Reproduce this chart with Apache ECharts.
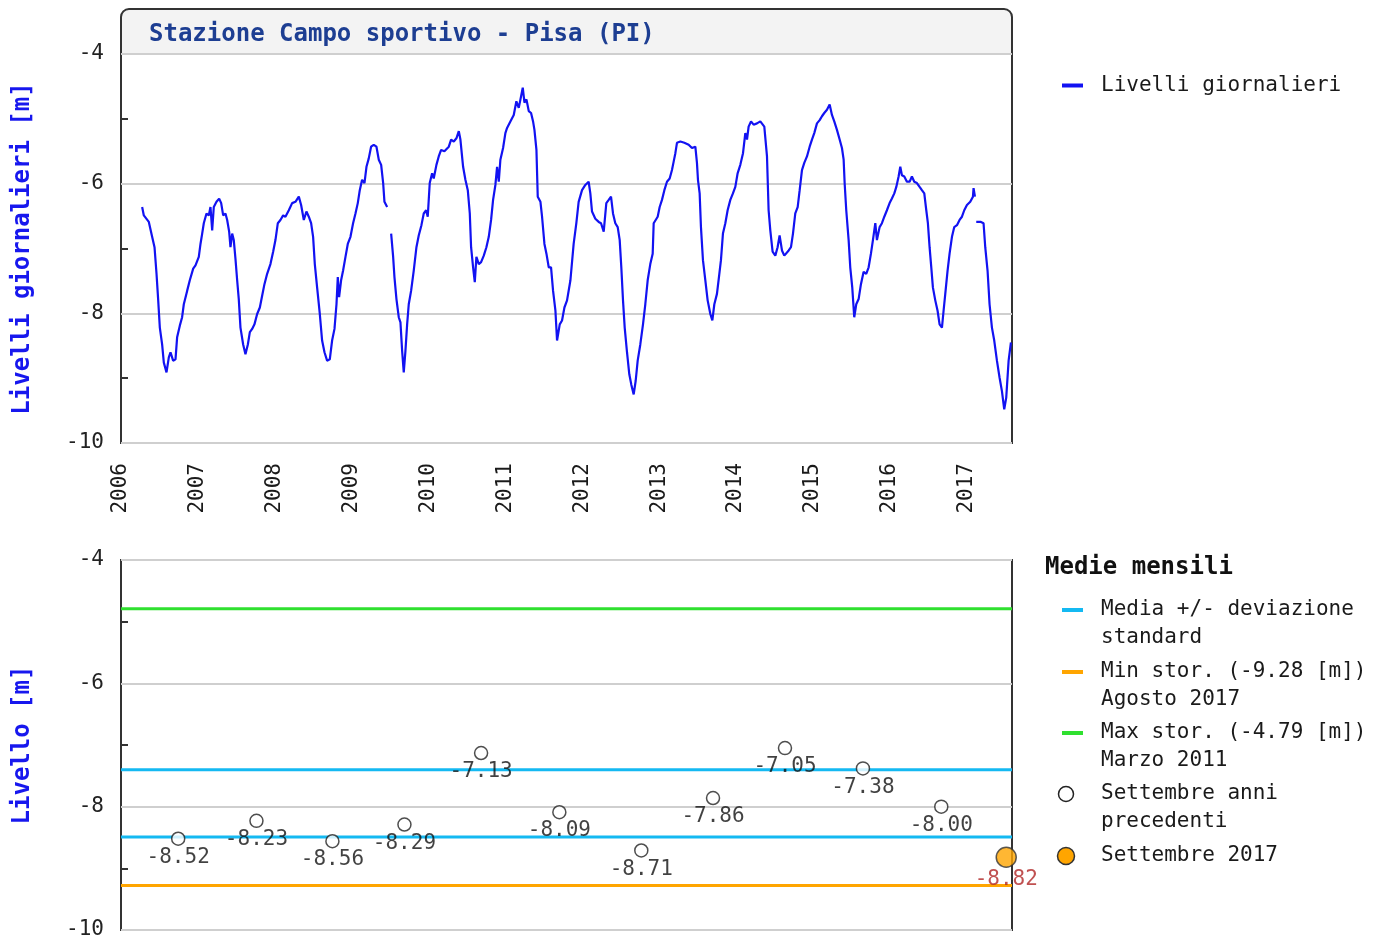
<!DOCTYPE html>
<html>
<head>
<meta charset="utf-8">
<title>Stazione Campo sportivo - Pisa (PI)</title>
<script src="https://cdn.jsdelivr.net/npm/echarts@6/dist/echarts.min.js"></script>
<style>
  html, body { margin: 0; padding: 0; background: #fff; }
  #chart { width: 1382px; height: 943px; }
</style>
</head>
<body>
<div id="chart"></div>
<script>
// ---- Daily groundwater level [m], time as decimal year (null = missing data) ----
const dailyLevels = [
  [2006.275,-6.36],[2006.297,-6.49],[2006.362,-6.59],[2006.405,-6.82],[2006.436,-6.98],[2006.462,-7.39],[2006.483,-7.78],[2006.505,-8.22],[2006.535,-8.48],[2006.557,-8.76],[2006.592,-8.91],[2006.622,-8.68],[2006.644,-8.60],[2006.678,-8.73],[2006.709,-8.71],[2006.730,-8.37],[2006.765,-8.19],[2006.795,-8.06],[2006.817,-7.86],[2006.861,-7.65],[2006.895,-7.49],[2006.939,-7.31],[2006.969,-7.26],
  [2007.012,-7.13],[2007.034,-6.93],[2007.056,-6.77],[2007.077,-6.61],[2007.112,-6.46],[2007.142,-6.49],[2007.164,-6.36],[2007.186,-6.72],[2007.207,-6.36],[2007.242,-6.28],[2007.277,-6.23],[2007.303,-6.30],[2007.329,-6.49],[2007.359,-6.46],[2007.381,-6.56],[2007.407,-6.74],[2007.424,-6.98],[2007.446,-6.77],[2007.467,-6.87],[2007.489,-7.16],[2007.511,-7.49],[2007.532,-7.78],[2007.554,-8.22],[2007.589,-8.48],[2007.619,-8.63],[2007.650,-8.48],[2007.676,-8.29],[2007.706,-8.24],[2007.736,-8.17],[2007.771,-8.01],[2007.806,-7.91],[2007.836,-7.73],[2007.866,-7.55],[2007.901,-7.39],[2007.944,-7.24],[2007.979,-7.05],
  [2008.009,-6.87],[2008.040,-6.61],[2008.074,-6.56],[2008.109,-6.49],[2008.139,-6.51],[2008.183,-6.41],[2008.226,-6.30],[2008.269,-6.28],[2008.313,-6.20],[2008.343,-6.33],[2008.378,-6.56],[2008.412,-6.43],[2008.443,-6.51],[2008.473,-6.61],[2008.499,-6.82],[2008.521,-7.24],[2008.551,-7.60],[2008.586,-8.01],[2008.616,-8.42],[2008.647,-8.60],[2008.681,-8.73],[2008.716,-8.71],[2008.746,-8.42],[2008.777,-8.24],[2008.803,-7.86],[2008.820,-7.44],[2008.837,-7.75],[2008.863,-7.49],[2008.889,-7.34],[2008.920,-7.13],[2008.950,-6.93],[2008.985,-6.82],
  [2009.019,-6.61],[2009.050,-6.46],[2009.080,-6.30],[2009.106,-6.10],[2009.136,-5.94],[2009.167,-5.99],[2009.193,-5.74],[2009.223,-5.61],[2009.253,-5.43],[2009.288,-5.40],[2009.323,-5.43],[2009.353,-5.63],[2009.384,-5.71],[2009.410,-5.99],[2009.427,-6.28],[2009.462,-6.36],[2009.490,null],
  [2009.514,-6.77],[2009.540,-7.13],[2009.557,-7.44],[2009.583,-7.78],[2009.613,-8.06],[2009.635,-8.14],[2009.657,-8.58],[2009.678,-8.91],[2009.700,-8.58],[2009.722,-8.17],[2009.743,-7.86],[2009.774,-7.65],[2009.808,-7.34],[2009.843,-6.98],[2009.873,-6.80],[2009.908,-6.64],[2009.938,-6.46],[2009.969,-6.41],[2009.990,-6.51],
  [2010.016,-5.99],[2010.047,-5.84],[2010.068,-5.92],[2010.103,-5.71],[2010.133,-5.58],[2010.164,-5.48],[2010.207,-5.50],[2010.264,-5.43],[2010.294,-5.32],[2010.329,-5.35],[2010.363,-5.30],[2010.394,-5.19],[2010.415,-5.32],[2010.450,-5.74],[2010.480,-5.94],[2010.511,-6.10],[2010.537,-6.46],[2010.554,-6.98],[2010.580,-7.29],[2010.602,-7.52],[2010.623,-7.13],[2010.654,-7.24],[2010.684,-7.21],[2010.719,-7.11],[2010.753,-6.98],[2010.784,-6.82],[2010.814,-6.56],[2010.840,-6.25],[2010.870,-6.02],[2010.892,-5.74],[2010.914,-5.97],[2010.935,-5.63],[2010.970,-5.45],
  [2011.000,-5.22],[2011.022,-5.14],[2011.065,-5.04],[2011.109,-4.94],[2011.143,-4.73],[2011.174,-4.83],[2011.196,-4.70],[2011.226,-4.52],[2011.248,-4.75],[2011.274,-4.70],[2011.304,-4.88],[2011.334,-4.91],[2011.360,-5.04],[2011.378,-5.17],[2011.404,-5.48],[2011.421,-6.20],[2011.456,-6.28],[2011.477,-6.51],[2011.508,-6.93],[2011.534,-7.08],[2011.564,-7.29],[2011.594,-7.29],[2011.620,-7.65],[2011.651,-7.96],[2011.672,-8.42],[2011.707,-8.17],[2011.737,-8.11],[2011.768,-7.91],[2011.802,-7.80],[2011.846,-7.49],[2011.888,-6.93],[2011.923,-6.61],[2011.953,-6.28],[2011.997,-6.10],
  [2012.040,-6.02],[2012.083,-5.97],[2012.105,-6.15],[2012.127,-6.43],[2012.170,-6.54],[2012.214,-6.59],[2012.244,-6.61],[2012.279,-6.74],[2012.313,-6.30],[2012.344,-6.25],[2012.374,-6.20],[2012.400,-6.46],[2012.430,-6.61],[2012.461,-6.67],[2012.487,-6.87],[2012.508,-7.29],[2012.530,-7.80],[2012.552,-8.22],[2012.582,-8.60],[2012.612,-8.94],[2012.638,-9.10],[2012.669,-9.25],[2012.695,-9.04],[2012.721,-8.73],[2012.755,-8.48],[2012.790,-8.17],[2012.820,-7.86],[2012.851,-7.49],[2012.885,-7.24],[2012.916,-7.08],[2012.929,-6.61],[2012.981,-6.51],
  [2013.007,-6.36],[2013.037,-6.25],[2013.068,-6.10],[2013.102,-5.97],[2013.137,-5.92],[2013.167,-5.79],[2013.189,-5.66],[2013.211,-5.53],[2013.232,-5.37],[2013.276,-5.35],[2013.328,-5.37],[2013.384,-5.40],[2013.427,-5.45],[2013.471,-5.43],[2013.492,-5.68],[2013.505,-5.94],[2013.527,-6.15],[2013.544,-6.67],[2013.570,-7.18],[2013.601,-7.49],[2013.631,-7.80],[2013.666,-8.01],[2013.692,-8.11],[2013.718,-7.86],[2013.752,-7.70],[2013.778,-7.44],[2013.804,-7.18],[2013.830,-6.77],[2013.861,-6.61],[2013.891,-6.41],[2013.926,-6.25],[2013.960,-6.15],[2013.991,-6.05],
  [2014.021,-5.84],[2014.056,-5.71],[2014.091,-5.53],[2014.121,-5.22],[2014.143,-5.32],[2014.164,-5.12],[2014.195,-5.04],[2014.229,-5.09],[2014.273,-5.07],[2014.316,-5.04],[2014.368,-5.12],[2014.403,-5.58],[2014.424,-6.41],[2014.446,-6.72],[2014.476,-7.05],[2014.511,-7.11],[2014.541,-6.98],[2014.567,-6.80],[2014.598,-7.03],[2014.628,-7.11],[2014.654,-7.13],[2014.685,-7.03],[2014.715,-6.98],[2014.741,-6.77],[2014.771,-6.46],[2014.802,-6.36],[2014.828,-6.10],[2014.858,-5.79],[2014.888,-5.68],[2014.923,-5.58],[2014.958,-5.43],[2014.988,-5.32],
  [2015.018,-5.22],[2015.053,-5.07],[2015.088,-5.02],[2015.118,-4.96],[2015.148,-4.91],[2015.183,-4.86],[2015.218,-4.78],[2015.248,-4.94],[2015.278,-5.04],[2015.313,-5.17],[2015.348,-5.32],[2015.378,-5.45],[2015.400,-5.63],[2015.413,-5.99],[2015.434,-6.41],[2015.465,-6.87],[2015.486,-7.29],[2015.512,-7.60],[2015.538,-8.06],[2015.564,-7.86],[2015.595,-7.78],[2015.625,-7.55],[2015.660,-7.36],[2015.694,-7.39],[2015.725,-7.29],[2015.755,-7.08],[2015.781,-6.87],[2015.812,-6.61],[2015.833,-6.87],[2015.868,-6.67],[2015.898,-6.61],[2015.929,-6.51],[2015.963,-6.41],[2015.998,-6.30],
  [2016.028,-6.23],[2016.059,-6.15],[2016.085,-6.05],[2016.115,-5.89],[2016.137,-5.74],[2016.158,-5.87],[2016.189,-5.89],[2016.223,-5.97],[2016.258,-5.97],[2016.288,-5.89],[2016.319,-5.97],[2016.353,-5.99],[2016.388,-6.05],[2016.418,-6.10],[2016.449,-6.15],[2016.475,-6.41],[2016.496,-6.61],[2016.518,-6.98],[2016.540,-7.29],[2016.561,-7.60],[2016.592,-7.80],[2016.622,-7.96],[2016.648,-8.17],[2016.679,-8.22],[2016.700,-7.96],[2016.722,-7.70],[2016.752,-7.34],[2016.778,-7.08],[2016.809,-6.82],[2016.839,-6.67],[2016.874,-6.64],[2016.908,-6.56],[2016.939,-6.51],[2016.969,-6.41],
  [2017.004,-6.33],[2017.047,-6.28],[2017.082,-6.20],[2017.090,-6.07],[2017.108,-6.20],[2017.116,null],
  [2017.125,-6.59],[2017.142,-6.61],[2017.186,-6.59],[2017.220,-6.61],[2017.242,-6.98],[2017.272,-7.34],[2017.298,-7.86],[2017.329,-8.22],[2017.359,-8.42],[2017.394,-8.73],[2017.428,-8.99],[2017.459,-9.20],[2017.489,-9.48],[2017.515,-9.30],[2017.546,-8.73],[2017.576,-8.45]
];

// ---- September monthly means of previous years ----
const septemberTimes  = [2006.744, 2007.762, 2008.750, 2009.687, 2010.684, 2011.702, 2012.768, 2013.701, 2014.637, 2015.651, 2016.670];
const septemberLevels = [-8.52, -8.23, -8.56, -8.29, -7.13, -8.09, -8.71, -7.86, -7.05, -7.38, -8.00];

// ---- Current month ----
const currentTime  = 2017.515;
const currentLevel = -8.82;

// ---- Reference levels [m] ----
const meanPlusStd  = -7.40;
const meanMinusStd = -8.49;
const histMin      = -9.28;
const histMax      = -4.79;

// ---- Axis ranges ----
const timeMin = 2006, timeMax = 2017.59;
const levelMin = -10, levelMax = -4, levelStep = 2;

const MONO = '"DejaVu Sans Mono", monospace';
const C_DAILY = '#1212f2';
const C_STD = '#14b9f2';
const C_MIN = '#ffa500';
const C_MAX = '#2fe02f';

const chart = echarts.init(document.getElementById('chart'), null, { renderer: 'canvas' });

function levelAxis(gridIndex, name) {
  return {
    type: 'value', gridIndex, min: levelMin, max: levelMax, interval: levelStep,
    name, nameLocation: 'middle', nameGap: 86,
    nameTextStyle: { color: '#1717ee', fontFamily: MONO, fontWeight: 'bold', fontSize: 24 },
    axisLine: { show: false },
    axisTick: { show: false, inside: true },
    minorTick: { show: true, splitNumber: 2, length: 7, lineStyle: { color: '#333', width: 2 } },
    splitLine: { show: true, lineStyle: { color: '#cfcfcf', width: 2 } },
    axisLabel: { color: '#222', fontFamily: MONO, fontSize: 21, margin: 17 }
  };
}

function hLine(name, value, color, gridIndex) {
  return {
    name, type: 'line', xAxisIndex: gridIndex, yAxisIndex: gridIndex,
    data: [[timeMin, value], [timeMax, value]],
    symbol: 'none', silent: true, z: 2,
    lineStyle: { color, width: 3 }
  };
}

const legendItems = [
  { kind: 'line', color: C_STD, y: 610, lines: ['Media +/- deviazione', 'standard'] },
  { kind: 'line', color: C_MIN, y: 672, lines: ['Min stor. (' + histMin.toFixed(2) + ' [m])', 'Agosto 2017'] },
  { kind: 'line', color: C_MAX, y: 733, lines: ['Max stor. (' + histMax.toFixed(2) + ' [m])', 'Marzo 2011'] },
  { kind: 'hollow', y: 794, lines: ['Settembre anni', 'precedenti'] },
  { kind: 'filled', y: 856, lines: ['Settembre 2017'] }
];

const legendGraphics = [{
  type: 'text', x: 1045, y: 568,
  style: { text: 'Medie mensili', font: 'bold 24px ' + MONO, fill: '#111', verticalAlign: 'middle' }
}];
legendItems.forEach(it => {
  if (it.kind === 'line') {
    legendGraphics.push({ type: 'line', shape: { x1: 1062, y1: it.y, x2: 1083, y2: it.y },
      style: { stroke: it.color, lineWidth: 4 } });
  } else if (it.kind === 'hollow') {
    legendGraphics.push({ type: 'circle', shape: { cx: 1066, cy: it.y, r: 7.5 },
      style: { fill: '#fff', stroke: '#222', lineWidth: 1.5 } });
  } else {
    legendGraphics.push({ type: 'circle', shape: { cx: 1066, cy: it.y, r: 8.5 },
      style: { fill: C_MIN, stroke: '#333', lineWidth: 1.5 } });
  }
  legendGraphics.push({
    type: 'text', x: 1101, y: it.y - 14,
    style: { text: it.lines.join('\n'), font: '21px ' + MONO, fill: '#1a1a1a', lineHeight: 28, verticalAlign: 'top' }
  });
});

const option = {
  animation: false,
  backgroundColor: '#fff',
  title: {
    text: 'Stazione Campo sportivo - Pisa (PI)',
    left: 144, top: 18,
    textStyle: { color: '#1d3e92', fontFamily: MONO, fontWeight: 'bold', fontSize: 24 }
  },
  legend: {
    data: ['Livelli giornalieri'],
    left: 1062, top: 75, orient: 'vertical', padding: 0,
    icon: 'rect', itemWidth: 21, itemHeight: 4,
    textStyle: { color: '#1a1a1a', fontFamily: MONO, fontSize: 21, padding: [0, 0, 0, 13] }
  },
  graphic: [
    { type: 'rect', z: -1, shape: { x: 121, y: 9, width: 891, height: 45, r: [8, 8, 0, 0] },
      style: { fill: '#f3f3f3', stroke: '#333', lineWidth: 2 } }
  ].concat(legendGraphics),
  grid: [
    { left: 121, right: 370, top: 54, bottom: 500, outerBoundsMode: 'none', containLabel: false,
      show: true, backgroundColor: '#fff', borderColor: '#333', borderWidth: 2 },
    { left: 121, right: 370, top: 560, bottom: 13, outerBoundsMode: 'none', containLabel: false,
      show: true, backgroundColor: '#fff', borderColor: '#333', borderWidth: 2 }
  ],
  xAxis: [
    {
      type: 'value', gridIndex: 0, min: timeMin, max: timeMax, interval: 1,
      axisLine: { show: false }, axisTick: { show: false }, splitLine: { show: false },
      axisLabel: {
        rotate: 90, margin: 20, color: '#1a1a1a', fontFamily: MONO, fontSize: 21,
        showMaxLabel: false,
        formatter: v => (Math.abs(v - Math.round(v)) < 1e-6 ? String(Math.round(v)) : '')
      }
    },
    { type: 'value', gridIndex: 1, min: timeMin, max: timeMax, show: false }
  ],
  yAxis: [
    levelAxis(0, 'Livelli giornalieri [m]'),
    levelAxis(1, 'Livello [m]')
  ],
  series: [
    {
      name: 'Livelli giornalieri', type: 'line', xAxisIndex: 0, yAxisIndex: 0,
      data: dailyLevels, showSymbol: false, symbol: 'none', connectNulls: false,
      lineStyle: { color: C_DAILY, width: 2.2 }, itemStyle: { color: C_DAILY }
    },
    hLine('Media + deviazione standard', meanPlusStd, C_STD, 1),
    hLine('Media - deviazione standard', meanMinusStd, C_STD, 1),
    hLine('Min stor.', histMin, C_MIN, 1),
    hLine('Max stor.', histMax, C_MAX, 1),
    {
      name: 'Settembre anni precedenti', type: 'scatter', xAxisIndex: 1, yAxisIndex: 1, z: 5,
      data: septemberTimes.map((t, i) => [t, septemberLevels[i]]),
      symbol: 'circle', symbolSize: 13,
      itemStyle: { color: '#fff', borderColor: '#222', borderWidth: 1.5 },
      label: {
        show: true, position: 'bottom', distance: 1,
        color: '#111', fontFamily: MONO, fontSize: 21,
        formatter: p => p.value[1].toFixed(2)
      }
    },
    {
      name: 'Settembre 2017', type: 'scatter', xAxisIndex: 1, yAxisIndex: 1, z: 6,
      data: [[currentTime, currentLevel]],
      symbol: 'circle', symbolSize: 20,
      itemStyle: { color: C_MIN, borderColor: '#333', borderWidth: 1.5 },
      label: {
        show: true, position: 'bottom', distance: 1,
        color: '#b02525', fontFamily: MONO, fontSize: 21,
        formatter: p => p.value[1].toFixed(2)
      }
    }
  ]
};

chart.setOption(option);
</script>
</body>
</html>
